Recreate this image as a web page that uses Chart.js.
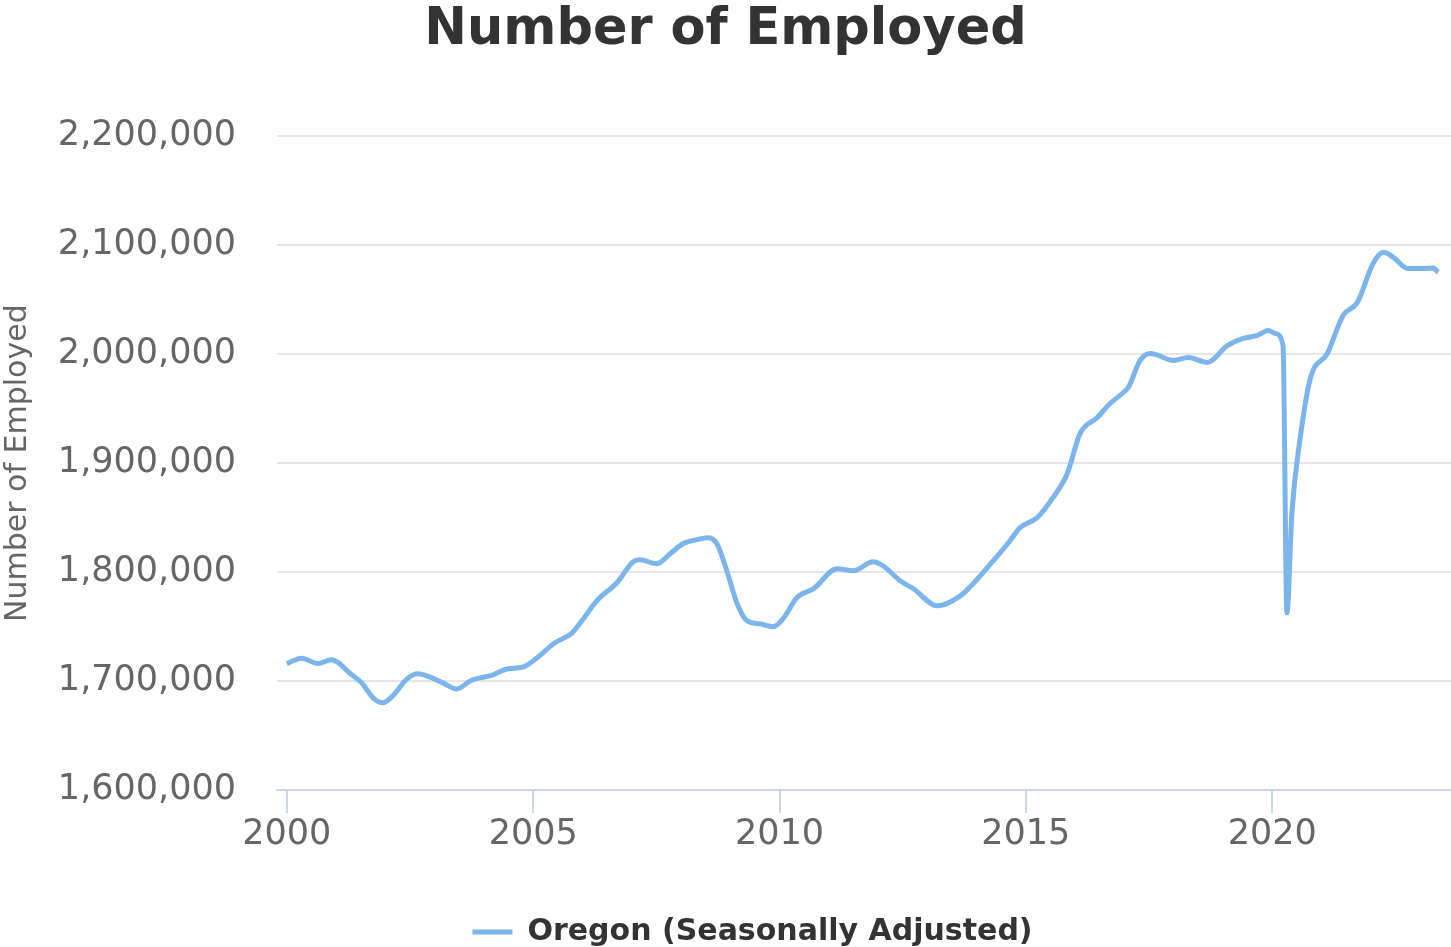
<!DOCTYPE html>
<html lang="en">
<head>
  <meta charset="UTF-8" />
  <title>Number of Employed</title>
  <script src="https://cdn.jsdelivr.net/npm/chart.js"></script>
  <style>
    body { margin: 0; background: white; }
    .wrap { width: 1451px; height: 947px; }
  </style>
</head>
<body>
  <div class="wrap"><canvas id="employedChart"></canvas></div>

  <script>
    // decimal years and employed counts
    const years = [
      2000.00, 2000.30, 2000.63, 2000.90, 2001.02, 2001.27, 2001.52, 2001.75, 2001.95,
      2002.15, 2002.44, 2002.66, 2002.90, 2003.17, 2003.45, 2003.72, 2003.92,
      2004.12, 2004.47, 2004.80, 2005.08, 2005.42, 2005.78, 2006.00, 2006.29, 2006.70,
      2007.03, 2007.17, 2007.51, 2007.78, 2008.04, 2008.32, 2008.55, 2008.73, 2008.93,
      2009.14, 2009.34, 2009.60, 2009.87, 2010.07, 2010.36, 2010.69, 2011.17, 2011.50,
      2011.90, 2012.10, 2012.45, 2012.72, 2013.20, 2013.67, 2013.93, 2014.34, 2014.68,
      2014.88, 2015.23, 2015.55, 2015.84, 2016.10, 2016.45, 2016.71, 2016.98, 2017.08,
      2017.32, 2017.53, 2018.00, 2018.30, 2018.68, 2019.09, 2019.41, 2019.70, 2019.92,
      2020.06, 2020.22, 2020.30, 2020.40, 2020.57, 2020.78, 2021.12, 2021.44, 2021.73,
      2022.05, 2022.26, 2022.46, 2022.75, 2023.07, 2023.27, 2023.37
    ];
    const employed = [
      1716000, 1721000, 1716000, 1719500, 1717600, 1707500, 1698300, 1684600, 1680000,
      1686400, 1702000, 1706600, 1703800, 1698300, 1692800, 1700100, 1702900,
      1704700, 1711100, 1713000, 1721300, 1734500, 1743800, 1756000, 1773600, 1790200,
      1809500, 1811300, 1807600, 1816800, 1826000, 1829700, 1831500, 1826000, 1801200,
      1770900, 1755300, 1752500, 1749800, 1757100, 1777000, 1784700, 1803000, 1801200,
      1809500, 1805800, 1792000, 1784700, 1769000, 1778200, 1789300, 1810400, 1828800,
      1840700, 1849900, 1868300, 1890300, 1927100, 1941800, 1954700, 1964800, 1969400,
      1994200, 2000600, 1994200, 1997000, 1992400, 2007800, 2014400, 2017200, 2021700,
      2019000, 2008000, 1762600, 1853600, 1923400, 1978500, 2000600, 2035500, 2047500,
      2083300, 2093400, 2088800, 2078700, 2078700, 2079000, 2075000
    ];
    const xTicks = [2000, 2005, 2010, 2015, 2020];
    const seriesLabel = 'Oregon (Seasonally Adjusted)';

    // nudge the legend a bit right and down, like the original
    const legendShift = {
      id: 'legendShift',
      afterLayout(chart) {
        const lg = chart.legend;
        lg.left += 27;
        lg.right += 27;
        lg.top += 10;
        lg.bottom += 10;
      }
    };

    const ctx = document.getElementById('employedChart').getContext('2d');
    new Chart(ctx, {
      type: 'line',
      data: {
        datasets: [{
          label: seriesLabel,
          data: years.map((y, i) => ({ x: y, y: employed[i] })),
          borderColor: '#7cb5ec',
          backgroundColor: '#7cb5ec',
          borderWidth: 5,
          pointRadius: 0,
          fill: false,
          cubicInterpolationMode: 'monotone'
        }]
      },
      options: {
        responsive: true,
        maintainAspectRatio: false,
        animation: false,
        layout: { padding: 0 },
        plugins: {
          title: {
            display: true,
            text: 'Number of Employed',
            color: '#333333',
            font: { family: 'DejaVu Sans', size: 51, weight: 'bold' },
            padding: { top: 0, bottom: 75 }
          },
          legend: {
            position: 'bottom',
            labels: {
              usePointStyle: true,
              pointStyle: 'line',
              pointStyleWidth: 40,
              color: '#333333',
              font: { family: 'DejaVu Sans', size: 30, weight: 'bold' },
              padding: 2
            }
          },
          tooltip: { enabled: false }
        },
        scales: {
          x: {
            type: 'linear',
            min: 1999.8,
            max: 2023.63,
            afterBuildTicks(scale) { scale.ticks = xTicks.map(v => ({ value: v })); },
            ticks: {
              color: '#666666',
              font: { family: 'DejaVu Sans', size: 35 },
              padding: 1,
              maxRotation: 0,
              callback: v => String(v)
            },
            grid: { drawOnChartArea: false, color: '#ccd6eb', lineWidth: 2, tickLength: 23 },
            border: { color: '#ccd6eb', width: 2 },
            afterFit(scale) { scale.height = 115; }
          },
          y: {
            min: 1600000,
            max: 2200000,
            ticks: {
              stepSize: 100000,
              color: '#666666',
              font: { family: 'DejaVu Sans', size: 35 },
              padding: 41,
              callback: v => v.toLocaleString('en-US')
            },
            grid: { color: '#e6e6e6', lineWidth: 2, drawTicks: false },
            border: { display: false },
            title: {
              display: true,
              text: 'Number of Employed',
              color: '#666666',
              font: { family: 'DejaVu Sans', size: 30 },
              padding: { top: 0, bottom: 0 }
            },
            afterFit(scale) { scale.width = 277; }
          }
        }
      },
      plugins: [legendShift]
    });
  </script>
</body>
</html>
